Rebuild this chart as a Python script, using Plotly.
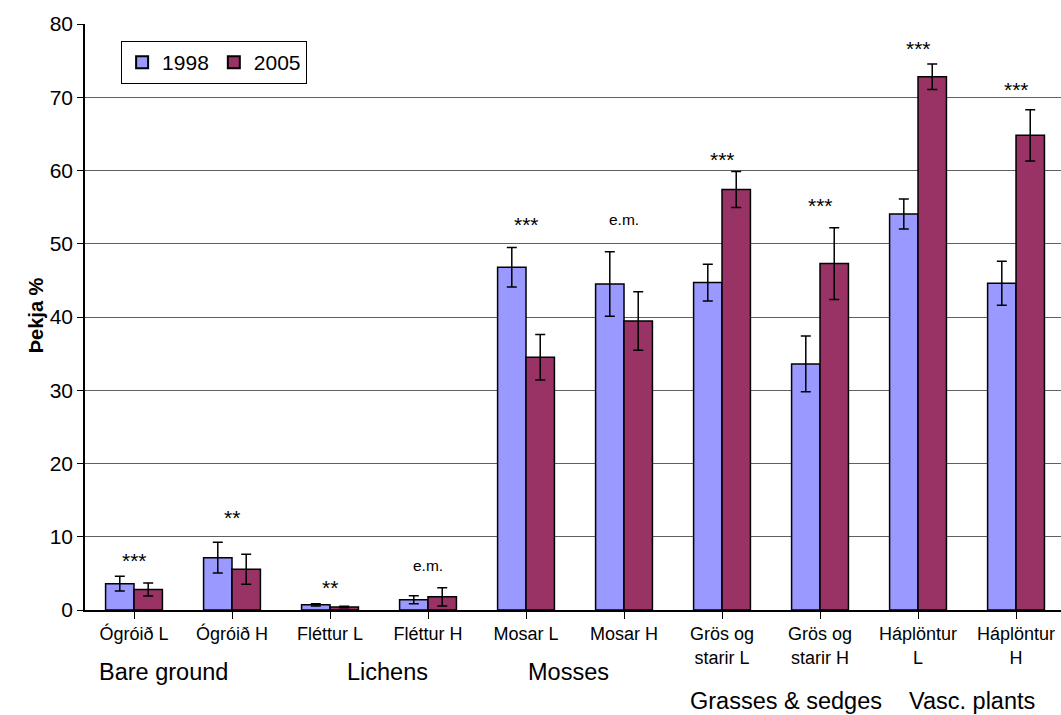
import plotly.graph_objects as go

# Category labels (tick text) and significance markers
categories = ["Ógróið L", "Ógróið H", "Fléttur L", "Fléttur H", "Mosar L",
              "Mosar H", "Grös og<br>starir L", "Grös og<br>starir H",
              "Háplöntur<br>L", "Háplöntur<br>H"]
cover_1998 = [3.6, 7.15, 0.7, 1.4, 46.8, 44.5, 44.7, 33.6, 54.05, 44.6]
err_1998 = [1.0, 2.1, 0.15, 0.55, 2.7, 4.4, 2.5, 3.8, 2.05, 3.0]
cover_2005 = [2.8, 5.55, 0.4, 1.8, 34.5, 39.45, 57.4, 47.3, 72.8, 64.8]
err_2005 = [0.9, 2.05, 0.1, 1.25, 3.1, 4.0, 2.45, 4.9, 1.75, 3.5]
signif = ["***", "**", "**", "e.m.", "***", "e.m.", "***", "***", "***", "***"]
signif_y = [6.8, 12.6, 3.1, 6.1, 52.6, 53.3, 61.5, 55.2, 76.6, 71.0]
groups = ["Bare ground", "Lichens", "Mosses", "Grasses & sedges", "Vasc. plants"]
group_x = [0.306, 2.59, 4.43, 6.65, 8.55]
group_row = [0, 0, 0, 1, 1]

FONT = "Liberation Sans, Arial, sans-serif"
x = list(range(len(categories)))

fig = go.Figure()
fig.add_trace(go.Bar(
    name="1998", x=x, y=cover_1998,
    marker=dict(color="#9999FF", line=dict(color="black", width=1.5)),
    error_y=dict(type="data", array=err_1998, color="black", thickness=1.5, width=5),
))
fig.add_trace(go.Bar(
    name="2005", x=x, y=cover_2005,
    marker=dict(color="#993366", line=dict(color="black", width=1.5)),
    error_y=dict(type="data", array=err_2005, color="black", thickness=1.5, width=5),
))

annotations = []
for i, (s, sy) in enumerate(zip(signif, signif_y)):
    annotations.append(dict(
        x=i, y=sy, xref="x", yref="y", text=s, showarrow=False,
        font=dict(family=FONT, size=21 if s.startswith("*") else 15.5, color="black"),
    ))
for g, gx, row in zip(groups, group_x, group_row):
    annotations.append(dict(
        x=gx, y=-0.106 if row == 0 else -0.155, xref="x", yref="paper",
        text=g, showarrow=False, yanchor="middle",
        font=dict(family=FONT, size=23.5, color="black"),
    ))
annotations.append(dict(
    x=-0.0635, y=0.503, xref="paper", yref="paper", text="<b>Þekja %</b>",
    textangle=-90, showarrow=False,
    font=dict(family=FONT, size=20, color="black"),
))

fig.update_layout(
    width=1061, height=715,
    margin=dict(l=85, r=0, t=24, b=105),
    paper_bgcolor="white", plot_bgcolor="white",
    barmode="group", bargap=0.42, bargroupgap=0,
    font=dict(family=FONT, color="black"),
    showlegend=True,
    legend=dict(
        x=0.037, y=0.971, xanchor="left", yanchor="top",
        orientation="h", bordercolor="black", borderwidth=1,
        font=dict(family=FONT, size=21, color="black"),
        bgcolor="white", itemsizing="constant",
    ),
    annotations=annotations,
    xaxis=dict(
        range=[-0.5, 9.459], tickmode="array", tickvals=x, ticktext=categories,
        tickson="boundaries", ticks="outside", ticklen=7, tickcolor="black",
        showline=True, linecolor="black", linewidth=1.5,
        showgrid=False, tickfont=dict(family=FONT, size=18, color="black"),
    ),
    yaxis=dict(
        range=[0, 80], dtick=10, ticks="outside", ticklen=6, tickcolor="black",
        showline=True, linecolor="black", linewidth=1.5,
        showgrid=True, gridcolor="#606060", gridwidth=1,
        zeroline=False, tickfont=dict(family=FONT, size=21, color="black"),
    ),
)

fig.write_html("out.html")
